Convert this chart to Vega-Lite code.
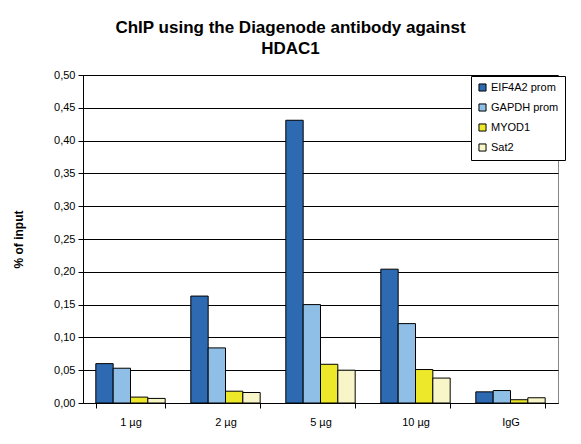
{
  "$schema": "https://vega.github.io/schema/vega-lite/v6.json",
  "width": 475,
  "height": 328,
  "autosize": {"type": "none"},
  "padding": {"left": 83, "top": 75, "right": 23, "bottom": 41},
  "background": "white",
  "title": {
    "text": ["ChIP using the Diagenode antibody against", "HDAC1"],
    "font": "Liberation Sans",
    "fontSize": 17,
    "fontWeight": "bold",
    "color": "#000",
    "anchor": "middle",
    "dx": -30,
    "offset": 11,
    "lineHeight": 21
  },
  "data": {
    "values": [
      {"amount": "1 µg", "target": "EIF4A2 prom", "value": 0.060},
      {"amount": "1 µg", "target": "GAPDH prom", "value": 0.053},
      {"amount": "1 µg", "target": "MYOD1", "value": 0.009},
      {"amount": "1 µg", "target": "Sat2", "value": 0.007},
      {"amount": "2 µg", "target": "EIF4A2 prom", "value": 0.163},
      {"amount": "2 µg", "target": "GAPDH prom", "value": 0.084},
      {"amount": "2 µg", "target": "MYOD1", "value": 0.018},
      {"amount": "2 µg", "target": "Sat2", "value": 0.016},
      {"amount": "5 µg", "target": "EIF4A2 prom", "value": 0.431},
      {"amount": "5 µg", "target": "GAPDH prom", "value": 0.150},
      {"amount": "5 µg", "target": "MYOD1", "value": 0.059},
      {"amount": "5 µg", "target": "Sat2", "value": 0.050},
      {"amount": "10 µg", "target": "EIF4A2 prom", "value": 0.204},
      {"amount": "10 µg", "target": "GAPDH prom", "value": 0.121},
      {"amount": "10 µg", "target": "MYOD1", "value": 0.051},
      {"amount": "10 µg", "target": "Sat2", "value": 0.038},
      {"amount": "IgG", "target": "EIF4A2 prom", "value": 0.017},
      {"amount": "IgG", "target": "GAPDH prom", "value": 0.019},
      {"amount": "IgG", "target": "MYOD1", "value": 0.005},
      {"amount": "IgG", "target": "Sat2", "value": 0.008}
    ]
  },
  "mark": {"type": "bar", "stroke": "#000", "strokeWidth": 1},
  "encoding": {
    "x": {
      "field": "amount",
      "type": "nominal",
      "sort": ["1 µg", "2 µg", "5 µg", "10 µg", "IgG"],
      "scale": {"paddingInner": 0.27, "paddingOuter": 0.135},
      "axis": {
        "title": null,
        "labelAngle": 0,
        "tickBand": "extent",
        "tickSize": 5,
        "tickColor": "#000",
        "domainColor": "#000",
        "labelPadding": 8,
        "labelFont": "Liberation Sans",
        "labelFontSize": 11,
        "labelColor": "#000"
      }
    },
    "xOffset": {
      "field": "target",
      "type": "nominal",
      "sort": ["EIF4A2 prom", "GAPDH prom", "MYOD1", "Sat2"]
    },
    "y": {
      "field": "value",
      "type": "quantitative",
      "scale": {"domain": [0, 0.5], "nice": false},
      "axis": {
        "title": "% of input",
        "titleFont": "Liberation Sans",
        "titleFontSize": 12,
        "titleFontWeight": "bold",
        "titleColor": "#000",
        "titlePadding": 28,
        "values": [0, 0.05, 0.1, 0.15, 0.2, 0.25, 0.3, 0.35, 0.4, 0.45, 0.5],
        "labelExpr": "replace(format(datum.value, '.2f'), '.', ',')",
        "labelFont": "Liberation Sans",
        "labelFontSize": 11,
        "labelColor": "#000",
        "labelPadding": 3,
        "tickSize": 5,
        "tickColor": "#000",
        "domainColor": "#000",
        "grid": true,
        "gridColor": "#000",
        "gridWidth": 1
      }
    },
    "color": {
      "field": "target",
      "type": "nominal",
      "scale": {
        "domain": ["EIF4A2 prom", "GAPDH prom", "MYOD1", "Sat2"],
        "range": ["#2E6AB1", "#8FBFE6", "#EEE82A", "#F8F6C8"]
      },
      "legend": {
        "title": null,
        "orient": "none",
        "legendX": 388,
        "legendY": 1,
        "symbolType": "square",
        "symbolSize": 50,
        "symbolStrokeColor": "#000",
        "symbolStrokeWidth": 1,
        "labelFont": "Liberation Sans",
        "labelFontSize": 11,
        "labelColor": "#000",
        "rowPadding": 7,
        "strokeColor": "#000",
        "fillColor": "white",
        "padding": 6,
        "labelOffset": 3
      }
    }
  },
  "config": {
    "view": {"stroke": "#888", "strokeWidth": 1}
  }
}
